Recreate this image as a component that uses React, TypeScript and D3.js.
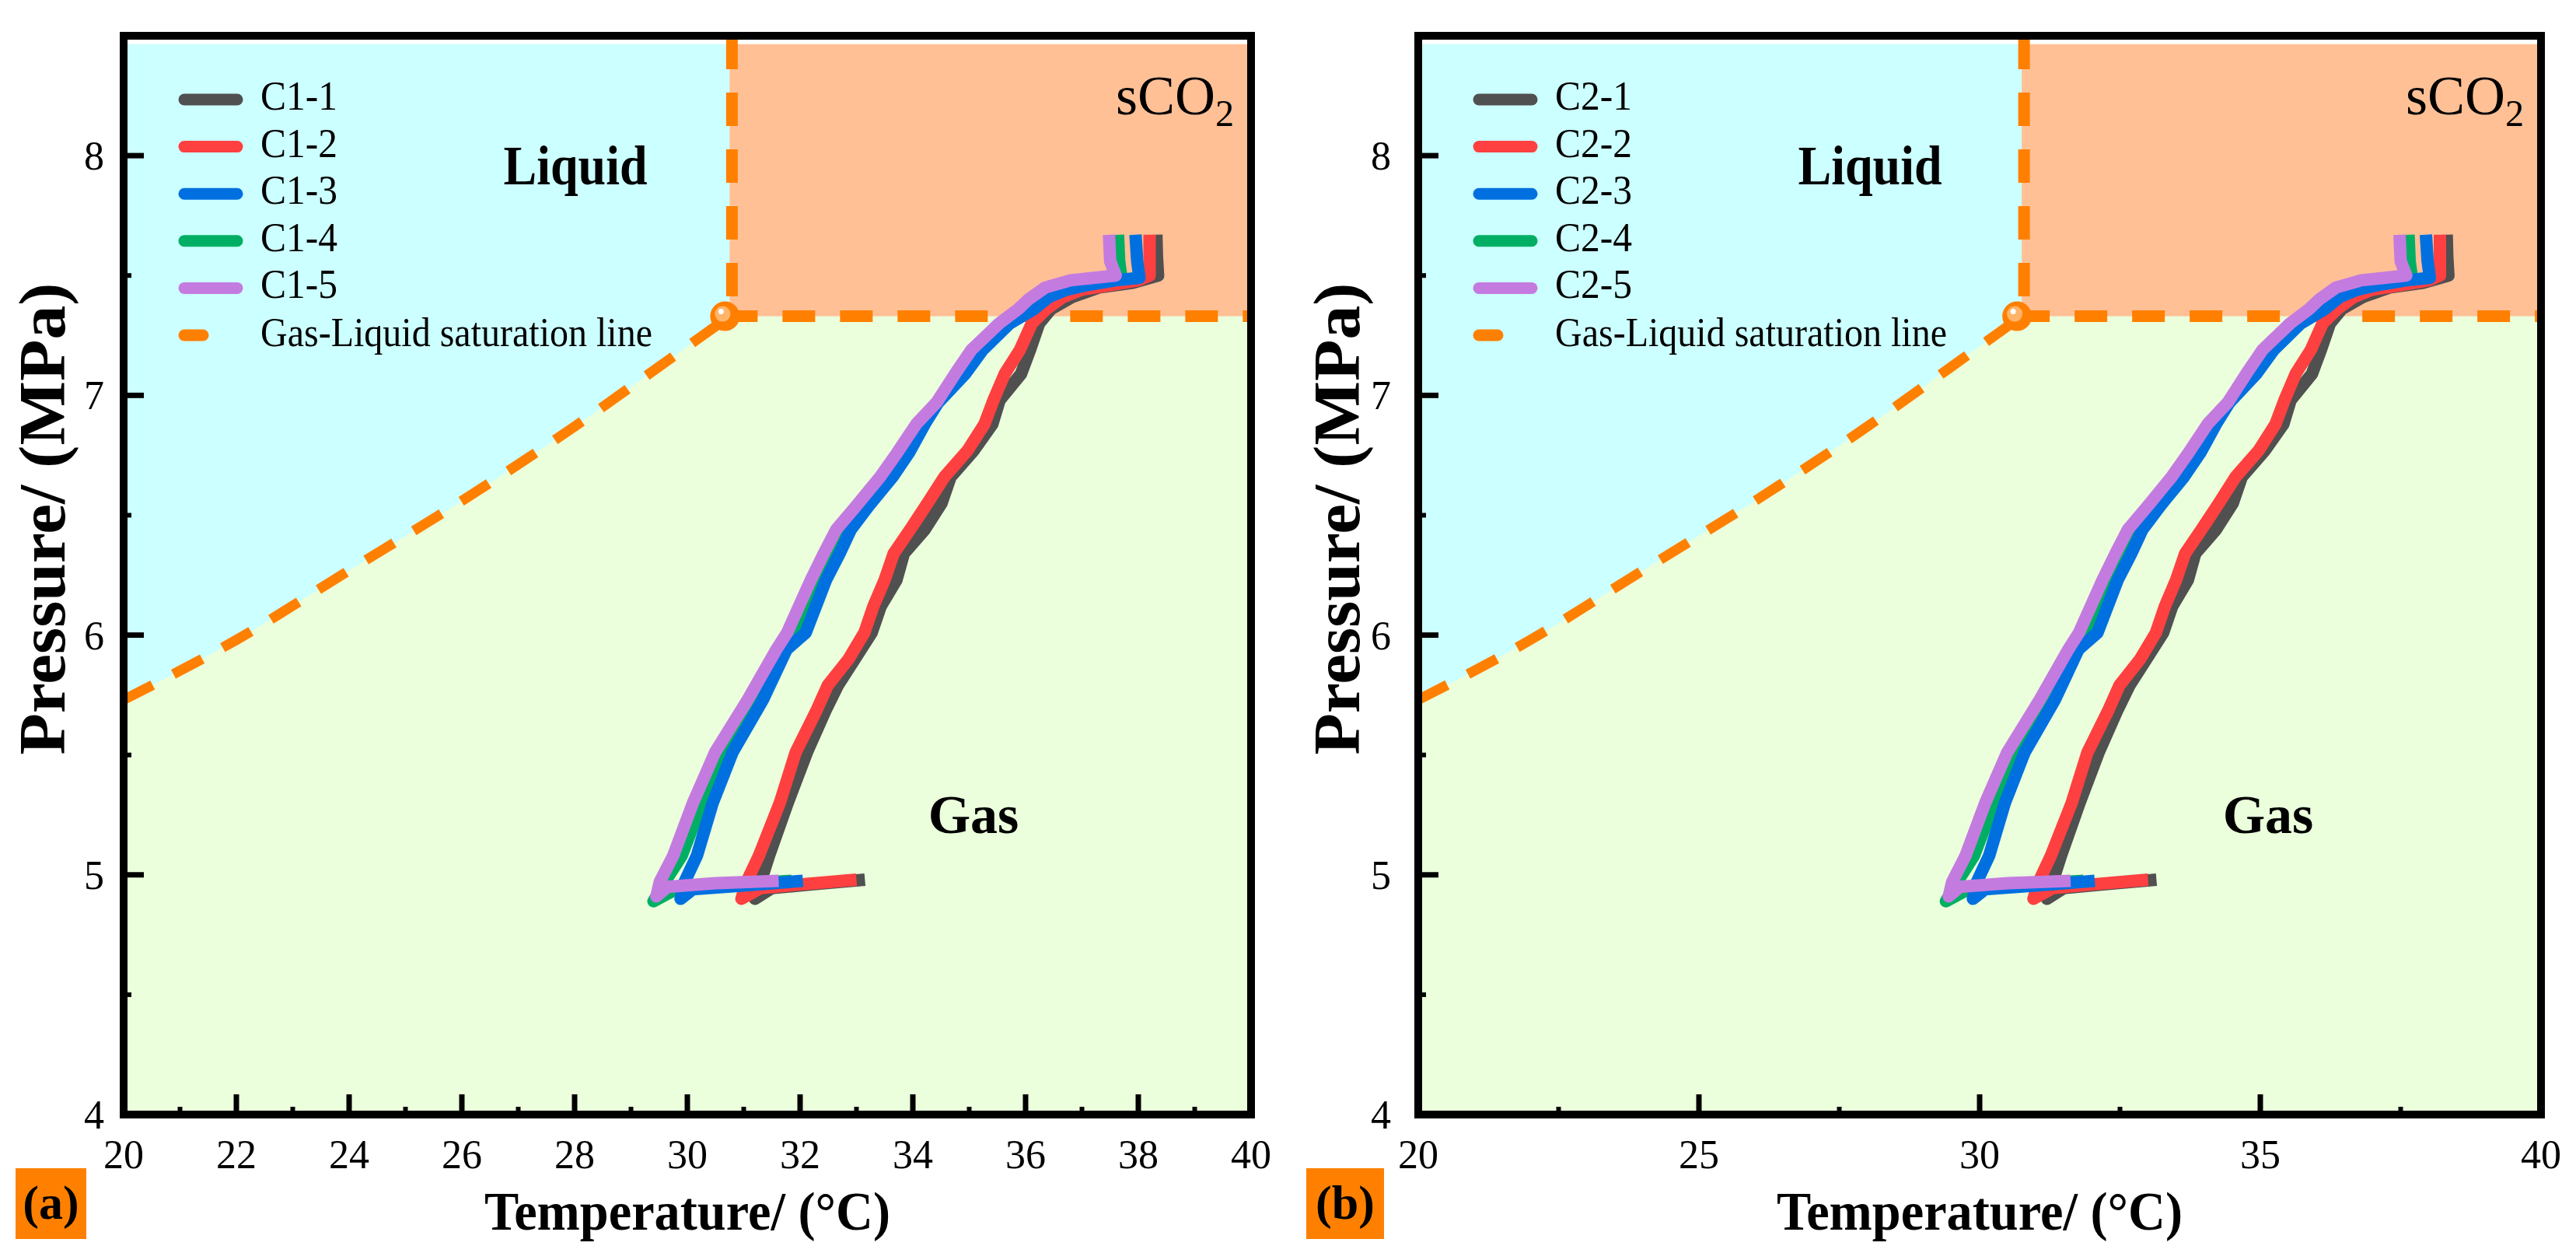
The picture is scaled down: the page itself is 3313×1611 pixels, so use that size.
import React from 'react';
import * as d3 from 'd3';

const W = 3313;
const H = 1611;
const FONT = '"Liberation Serif", "Times New Roman", serif';

// series labels and colours
const labelsA = ['C1-1', 'C1-2', 'C1-3', 'C1-4', 'C1-5'];
const labelsB = ['C2-1', 'C2-2', 'C2-3', 'C2-4', 'C2-5'];
const colors = ['#505050', '#FF4040', '#0070E0', '#00AF64', '#C47BE0'];
const drawOrder = [3, 0, 1, 2, 4];

// [temperature °C, pressure MPa]
const run1: [number, number][] = [
    [33.15, 4.98], [32.2, 4.96], [31.5, 4.945], [31.2, 4.9], [31.3, 4.97], [31.45, 5.08], [31.78, 5.3],
    [32.12, 5.51], [32.46, 5.69], [32.67, 5.79], [32.97, 5.9], [33.27, 6.01], [33.43, 6.12], [33.71, 6.23],
    [33.84, 6.34], [34.21, 6.44], [34.51, 6.55], [34.67, 6.66], [35.08, 6.77], [35.41, 6.88], [35.54, 6.98],
    [35.92, 7.09], [36.08, 7.19], [36.24, 7.3], [36.45, 7.36], [36.82, 7.41], [37.3, 7.45], [37.9, 7.47],
    [38.35, 7.5], [38.33, 7.58], [38.32, 7.67],
];
const run2: [number, number][] = [
    [33.0, 4.98], [32.0, 4.96], [31.3, 4.945], [30.96, 4.9], [31.05, 4.97], [31.27, 5.08], [31.64, 5.3],
    [31.92, 5.51], [32.3, 5.69], [32.49, 5.79], [32.86, 5.9], [33.14, 6.01], [33.3, 6.12], [33.5, 6.23],
    [33.66, 6.34], [33.95, 6.44], [34.26, 6.55], [34.56, 6.66], [34.97, 6.77], [35.27, 6.88], [35.43, 6.98],
    [35.63, 7.09], [35.9, 7.19], [36.11, 7.3], [36.37, 7.36], [36.66, 7.41], [36.98, 7.44], [37.5, 7.46],
    [38.0, 7.48], [38.2, 7.5], [38.2, 7.58], [38.2, 7.67],
];
const run3: [number, number][] = [
    [32.05, 4.975], [31.0, 4.955], [30.1, 4.94], [29.88, 4.9], [29.95, 4.97], [30.17, 5.08], [30.45, 5.3],
    [30.8, 5.51], [31.34, 5.73], [31.76, 5.94], [32.1, 6.01], [32.46, 6.23], [32.7, 6.34], [32.9, 6.44],
    [33.22, 6.54], [33.64, 6.66], [33.93, 6.76], [34.21, 6.88], [34.45, 6.97], [34.93, 7.09], [35.24, 7.19],
    [35.72, 7.3], [36.15, 7.36], [36.41, 7.41], [36.72, 7.44], [37.09, 7.46], [37.6, 7.48], [38.02, 7.49],
    [37.98, 7.56], [37.95, 7.67],
];
const run4: [number, number][] = [
    [31.85, 4.975], [30.8, 4.96], [29.8, 4.94], [29.4, 4.89], [29.6, 4.97], [29.9, 5.08], [30.26, 5.3],
    [30.66, 5.51], [31.2, 5.73], [31.66, 5.94], [31.96, 6.01], [32.33, 6.23], [32.56, 6.34], [32.78, 6.44],
    [33.1, 6.54], [33.55, 6.66], [33.84, 6.76], [34.13, 6.88], [34.43, 6.97], [34.84, 7.09], [35.15, 7.19],
    [35.62, 7.3], [36.03, 7.36], [36.33, 7.41], [36.65, 7.44], [37.0, 7.46], [37.5, 7.48], [37.7, 7.49],
    [37.66, 7.56], [37.64, 7.67],
];
const run5: [number, number][] = [
    [31.62, 4.975], [30.5, 4.965], [29.65, 4.95], [29.45, 4.91], [29.51, 4.97], [29.75, 5.08], [30.1, 5.3],
    [30.49, 5.51], [31.07, 5.73], [31.58, 5.94], [31.77, 6.01], [32.19, 6.23], [32.42, 6.34], [32.64, 6.44],
    [33.0, 6.54], [33.42, 6.66], [33.72, 6.76], [34.06, 6.88], [34.42, 6.97], [34.75, 7.09], [35.04, 7.19],
    [35.53, 7.3], [35.87, 7.36], [36.05, 7.4], [36.35, 7.45], [36.8, 7.48], [37.6, 7.5], [37.5, 7.56],
    [37.48, 7.67],
];
const runs = [run1, run2, run3, run4, run5];

// gas-liquid saturation line
const satTemp = [20, 22, 24, 26, 28, 29.5, 30.75];
const satPres = [5.73, 5.98, 6.27, 6.56, 6.87, 7.12, 7.33];
const critT = 30.75;
const critP = 7.33;

const yTicks = [4, 5, 6, 7, 8];
const yMinor = [4.5, 5.5, 6.5, 7.5];
const xTicksA = [20, 22, 24, 26, 28, 30, 32, 34, 36, 38, 40];
const xMinorA = [21, 23, 25, 27, 29, 31, 33, 35, 37, 39];
const xTicksB = [20, 25, 30, 35, 40];
const xMinorB = [22.5, 27.5, 32.5, 37.5];

const liquidColor = '#CCFFFF';
const scoColor = '#FFC096';
const gasColor = '#EBFFDC';
const orange = '#FF8000';

interface PanelProps {
    x0: number;
    x1: number;
    xTicks: number[];
    xMinor: number[];
    names: string[];
    tag: string;
    tagX: number;
    tagW: number;
    yLabelGap: number;
}

const Panel: React.FC<PanelProps> = ({ x0, x1, xTicks, xMinor, names, tag, tagX, tagW, yLabelGap }) => {
    const x = d3.scaleLinear().domain([20, 40]).range([x0, x1]);
    const y = d3.scaleLinear().domain([4, 8.5]).range([1433, 46]);
    const fillTop = 8.465;

    const sat = satTemp.map((t, i) => [t, satPres[i]] as [number, number]);

    const liquidArea = d3.area<[number, number]>()
        .x(d => x(d[0]))
        .y0(y(fillTop))
        .y1(d => y(d[1]))
        .curve(d3.curveMonotoneX);

    const satLine = d3.line<[number, number]>()
        .x(d => x(d[0]))
        .y(d => y(d[1]))
        .curve(d3.curveMonotoneX);

    const runLine = d3.line<[number, number]>()
        .x(d => x(d[0]))
        .y(d => y(d[1]));

    const yb = y(4);
    const legendY = (i: number) => 128 + i * 60.6;
    const midX = (x0 + x1) / 2;

    return (
        <g fontFamily={FONT}>
            {/* phase regions */}
            <rect x={x0} y={y(fillTop)} width={x1 - x0} height={yb - y(fillTop)} fill={gasColor} />
            <path d={liquidArea(sat) ?? ''} fill={liquidColor} />
            <rect x={x(critT)} y={y(fillTop)} width={x1 - x(critT)} height={y(critP) - y(fillTop)} fill={scoColor} />

            {/* phase boundaries */}
            <line x1={x(critT) + 3} x2={x(critT) + 3} y1={y(8.5)} y2={y(critP)} stroke={orange} strokeWidth={15} strokeDasharray="43 30" />
            <line x1={x(critT) + 3} x2={x1} y1={y(critP)} y2={y(critP)} stroke={orange} strokeWidth={15} strokeDasharray="42 32" strokeDashoffset={9} />
            <path d={satLine(sat) ?? ''} fill="none" stroke={orange} strokeWidth={13} strokeDasharray="42 30" />
            <circle cx={x(critT) - 6} cy={y(critP)} r={19} fill={orange} />
            <circle cx={x(critT) - 9} cy={y(critP) - 3} r={10} fill="#FFB46A" />
            <circle cx={x(critT) - 11} cy={y(critP) - 6} r={3.5} fill="#FFFFFF" />

            {/* data */}
            {drawOrder.map(i => (
                <path key={i} d={runLine(runs[i]) ?? ''} fill="none" stroke={colors[i]} strokeWidth={16} strokeLinejoin="round" />
            ))}

            {/* region labels */}
            <text x={x0 + 581} y={237} fontSize={71} fontWeight="bold" textAnchor="middle" textLength={185} lengthAdjust="spacingAndGlyphs">Liquid</text>
            <text x={x0 + 1093} y={1071} fontSize={70} fontWeight="bold" textAnchor="middle">Gas</text>
            <text x={x1 - 174} y={147} fontSize={72}>
                sCO<tspan fontSize={48} dy={15}>2</tspan>
            </text>

            {/* legend */}
            {names.map((n, i) => (
                <g key={n}>
                    <line x1={x0 + 78} x2={x0 + 146} y1={legendY(i)} y2={legendY(i)} stroke={colors[i]} strokeWidth={15} strokeLinecap="round" />
                    <text x={x0 + 176} y={legendY(i) + 13} fontSize={52} textLength={99} lengthAdjust="spacingAndGlyphs">{n}</text>
                </g>
            ))}
            <line x1={x0 + 78} x2={x0 + 102} y1={legendY(5)} y2={legendY(5)} stroke={orange} strokeWidth={15} strokeLinecap="round" />
            <text x={x0 + 176} y={legendY(5) + 14} fontSize={52} textLength={504} lengthAdjust="spacingAndGlyphs">Gas-Liquid saturation line</text>

            {/* ticks */}
            {xTicks.map(t => (
                <g key={'xt' + t}>
                    <line x1={x(t)} x2={x(t)} y1={yb} y2={yb - 26} stroke="#000" strokeWidth={7} />
                    <text x={x(t)} y={1502} fontSize={52} textAnchor="middle">{t}</text>
                </g>
            ))}
            {xMinor.map(t => (
                <line key={'xm' + t} x1={x(t)} x2={x(t)} y1={yb} y2={yb - 10} stroke="#000" strokeWidth={6} />
            ))}
            {yTicks.map(t => (
                <g key={'yt' + t}>
                    <line x1={x0} x2={x0 + 26} y1={y(t)} y2={y(t)} stroke="#000" strokeWidth={7} />
                    <text x={x0 - yLabelGap} y={y(t) + 18} fontSize={52} textAnchor="end">{t}</text>
                </g>
            ))}
            {yMinor.map(t => (
                <line key={'ym' + t} x1={x0} x2={x0 + 10} y1={y(t)} y2={y(t)} stroke="#000" strokeWidth={6} />
            ))}

            {/* frame */}
            <rect x={x0} y={y(8.5)} width={x1 - x0} height={yb - y(8.5)} fill="none" stroke="#000" strokeWidth={10} />

            {/* axis titles */}
            <text x={midX} y={1581} fontSize={70} fontWeight="bold" textAnchor="middle" textLength={522} lengthAdjust="spacingAndGlyphs">Temperature/ (°C)</text>
            <text transform={`translate(${x0 - 76},667) rotate(-90)`} fontSize={84} fontWeight="bold" textAnchor="middle" textLength={607} lengthAdjust="spacingAndGlyphs">Pressure/ (MPa)</text>

            {/* panel tag */}
            <rect x={tagX} y={1502} width={tagW} height={91} fill={orange} />
            <text x={tagX + tagW / 2} y={1567} fontSize={62} fontWeight="bold" textAnchor="middle">{tag}</text>
        </g>
    );
};

const App: React.FC = () => {
    return (
        <div>
            <style>{'body{margin:0;overflow:hidden;}'}</style>
            <svg width={W} height={H} viewBox={`0 0 ${W} ${H}`} style={{ display: 'block', background: '#fff' }}>
                <Panel x0={159} x1={1609} xTicks={xTicksA} xMinor={xMinorA} names={labelsA} tag="(a)" tagX={20} tagW={91} yLabelGap={25} />
                <Panel x0={1824} x1={3268} xTicks={xTicksB} xMinor={xMinorB} names={labelsB} tag="(b)" tagX={1680} tagW={100} yLabelGap={35} />
            </svg>
        </div>
    );
};

export default App;
